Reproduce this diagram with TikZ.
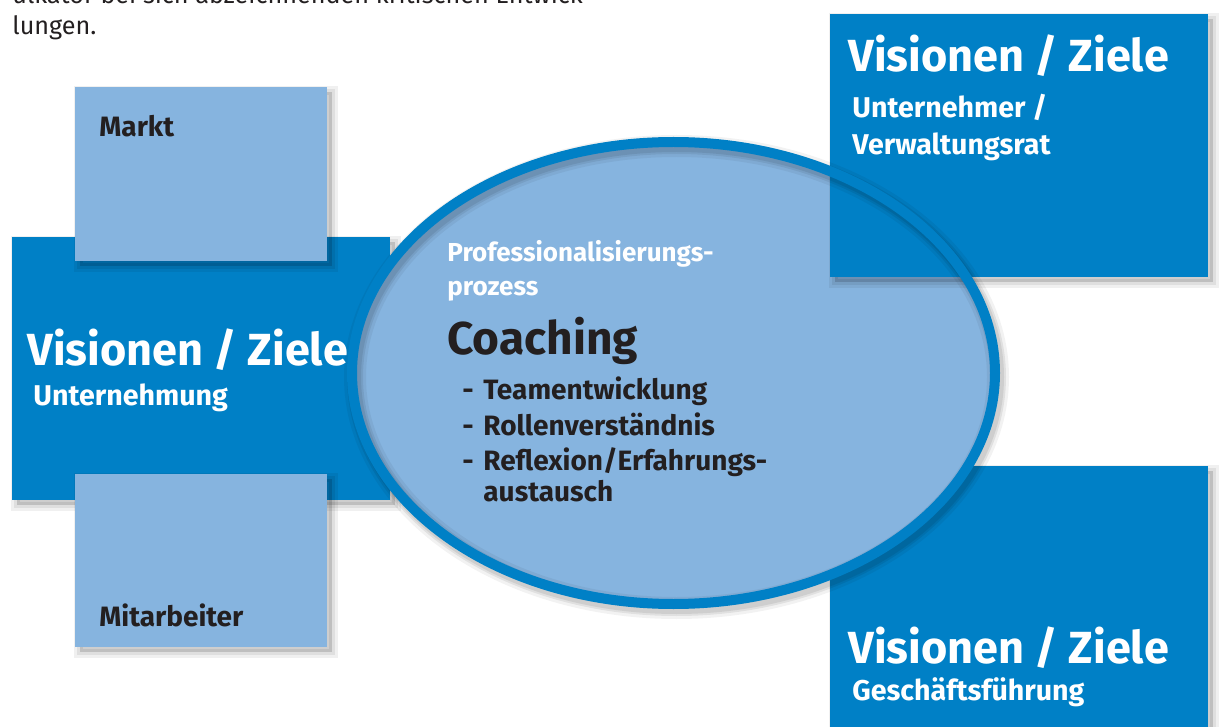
\documentclass[tikz,border=0pt]{standalone}
\usepackage{fontspec}
\setmainfont{Fira Sans}
\usetikzlibrary{shapes.geometric}
\definecolor{dkblue}{RGB}{0,128,198}
\definecolor{ltblue}{RGB}{134,180,223}
\definecolor{txt}{RGB}{35,31,32}
\begin{document}
\begin{tikzpicture}[x=0.5pt,y=-0.5pt,
  boxshadow/.style={
    preaction={fill=black,fill opacity=0.14,draw=black,draw opacity=0.06,line width=6pt,transform canvas={shift={(2.5pt,-2.5pt)}}},
    preaction={draw=black,draw opacity=0.07,line width=3pt,transform canvas={shift={(2.5pt,-2.5pt)}}}},
  darkbox/.style={rectangle,fill=dkblue,inner sep=0,minimum width=189pt,boxshadow},
  lightbox/.style={rectangle,fill=ltblue,inner sep=0,minimum width=126pt,boxshadow},
  lbl/.style={anchor=base west,inner sep=0},
  bigtitle/.style={lbl,text=white,font=\bfseries\fontsize{22.5}{26}\selectfont},
  subtitle/.style={lbl,text=white,font=\bfseries\fontsize{14.3}{16}\selectfont},
  innertitle/.style={lbl,text=white,font=\bfseries\fontsize{13}{15}\selectfont},
  darklbl/.style={lbl,text=txt,font=\bfseries\fontsize{14}{16}\selectfont},
  bullet/.style={lbl,text=txt,font=\bfseries\fontsize{14}{16}\selectfont},
  coachtitle/.style={lbl,text=txt,font=\bfseries\fontsize{23}{26}\selectfont},
  plaintext/.style={lbl,text=txt,font=\fontsize{12.6}{15}\selectfont},
  ringshadow/.style={
    preaction={draw=black,draw opacity=0.05,line width=11pt,transform canvas={shift={(1.5pt,-2pt)}}},
    preaction={draw=black,draw opacity=0.07,line width=8pt,transform canvas={shift={(1.5pt,-2pt)}}},
    preaction={draw=black,draw opacity=0.08,line width=6pt,transform canvas={shift={(1.5pt,-2pt)}}}}
]
\useasboundingbox (0,0) rectangle (1221,727);
\fill[white] (0,0) rectangle (1221,727);
\clip (0,0) rectangle (1221,727);

% running text above (cut off at the top edge, as in the reference)
\node[plaintext] (t1) at (12,4) {ulkator bei sich abzeichnenden kritischen Entwick};
\node[plaintext] (t2) at (12,35) {lungen.};

% left group
\node[darkbox,minimum height=131.5pt] (unt) at (201,368.5) {};
\node[lightbox,minimum height=87pt] (markt) at (201,174) {};
\node[lightbox,minimum height=86.5pt] (mitarb) at (201,560.5) {};

% bottom right box
\node[darkbox,minimum height=137pt] (gf) at (1019,603) {};

% ellipse fill
\node[ellipse,fill=ltblue,inner sep=0,minimum width=321.5pt,minimum height=231pt] (coach) at (673.5,373) {};

% top right box
\node[darkbox,minimum height=131.5pt] (vr) at (1019,145.5) {};

% ring
\node[ellipse,draw=dkblue,line width=5pt,inner sep=0,minimum width=321.5pt,minimum height=231pt,ringshadow] (ring) at (coach.center) {};

% texts
\node[darklbl] (marktT) at (99,137) {Markt};
\node[darklbl] (mitarbT) at (99,626) {Mitarbeiter};
\node[bigtitle] (untT1) at (27,365) {Visionen / Ziele};
\node[subtitle] (untT2) at (33,405) {Unternehmung};
\node[bigtitle] (vrT1) at (848,72) {Visionen / Ziele};
\node[subtitle] (vrT2) at (852,118) {Unternehmer /};
\node[subtitle] (vrT3) at (852,155) {Verwaltungsrat};
\node[bigtitle] (gfT1) at (848,663) {Visionen / Ziele};
\node[subtitle] (gfT2) at (852,700) {Geschäftsführung};
\node[innertitle] (pp1) at (447,262) {Professionalisierungs-};
\node[innertitle] (pp2) at (447,296) {prozess};
\node[coachtitle] (coachT) at (447,355) {Coaching};
\node[bullet] (d1) at (462,400) {-};
\node[bullet] (b1) at (483,400) {Teamentwicklung};
\node[bullet] (d2) at (462,435) {-};
\node[bullet] (b2) at (483,435) {Rollenverständnis};
\node[bullet] (d3) at (462,470) {-};
\node[bullet] (b3) at (483,470) {Reflexion/Erfahrungs-};
\node[bullet] (b4) at (483,501) {austausch};
\end{tikzpicture}
\end{document}
